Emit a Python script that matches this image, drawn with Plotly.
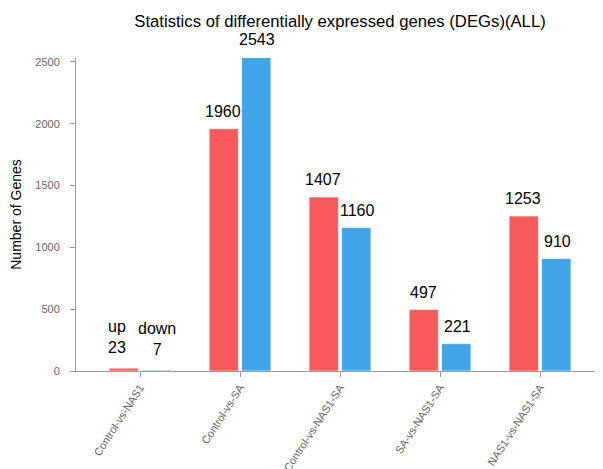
import plotly.graph_objects as go

categories = ["Control-vs-NAS1", "Control-vs-SA", "Control-vs-NAS1-SA", "SA-vs-NAS1-SA", "NAS1-vs-NAS1-SA"]
up_values = [23, 1960, 1407, 497, 1253]
down_values = [7, 2543, 1160, 221, 910]
y_ticks = [0, 500, 1000, 1500, 2000, 2500]
Y_TOP = 2532

RED = "#F85A5B"
BLUE = "#40A4E9"
FONT = "Liberation Sans, Arial, Helvetica, sans-serif"

# page body has an 8px margin, so the figure is sized/positioned to compensate
W, H = 595, 461

fig = go.Figure()
fig.add_trace(go.Bar(name="up", x=categories, y=up_values, marker=dict(color=RED, line=dict(color="rgba(255,255,255,0.6)", width=1))))
fig.add_trace(go.Bar(name="down", x=categories, y=down_values, marker=dict(color=BLUE, line=dict(color="rgba(255,255,255,0.6)", width=1))))

annotations = []
for i, (u, d) in enumerate(zip(up_values, down_values)):
    if i == 0:
        ut = "up<br>" + str(u)
        dt = "down<br>" + str(d)
        ys = 10
        xo = 0.06
    else:
        ut = str(u)
        dt = str(d)
        ys = 7
        xo = 0.0
    annotations.append(dict(x=i - 0.17 - xo, y=u / Y_TOP, xref="x", yref="y domain", text=ut, showarrow=False,
                            yanchor="bottom", yshift=ys, font=dict(size=16, color="#000", family=FONT)))
    annotations.append(dict(x=i + 0.17, y=d / Y_TOP, xref="x", yref="y domain", text=dt, showarrow=False,
                            yanchor="bottom", yshift=ys, font=dict(size=16, color="#000", family=FONT)))

fig.update_layout(
    width=W, height=H,
    margin=dict(l=68, r=0, t=50, b=98),
    paper_bgcolor="white", plot_bgcolor="white",
    barmode="group", bargap=0.35, bargroupgap=0.1,
    showlegend=False,
    font=dict(family=FONT),
    title=dict(text="Statistics of differentially expressed genes (DEGs)(ALL)", x=332 / W, xanchor="center",
               y=1 - 13 / H, yanchor="middle", font=dict(size=16.7, color="#000", family=FONT)),
    annotations=annotations,
)
fig.update_xaxes(range=[-0.64, 4.63], showline=True, linecolor="#999", linewidth=1, automargin=False,
                 ticks="outside", ticklen=5, tickcolor="#999", tickangle=-57,
                 tickfont=dict(size=11, color="#666", family=FONT), showgrid=False)
fig.update_yaxes(range=[0, Y_TOP], tickvals=y_ticks, showline=True, linecolor="#999", linewidth=1, automargin=False,
                 ticks="outside", ticklen=5, tickcolor="#999", ticklabelstandoff=8,
                 tickfont=dict(size=11, color="#666", family=FONT), showgrid=False, zeroline=False,
                 title=dict(text="Number of Genes", font=dict(size=14, color="#000", family=FONT), standoff=20))
fig.write_html("out.html")
